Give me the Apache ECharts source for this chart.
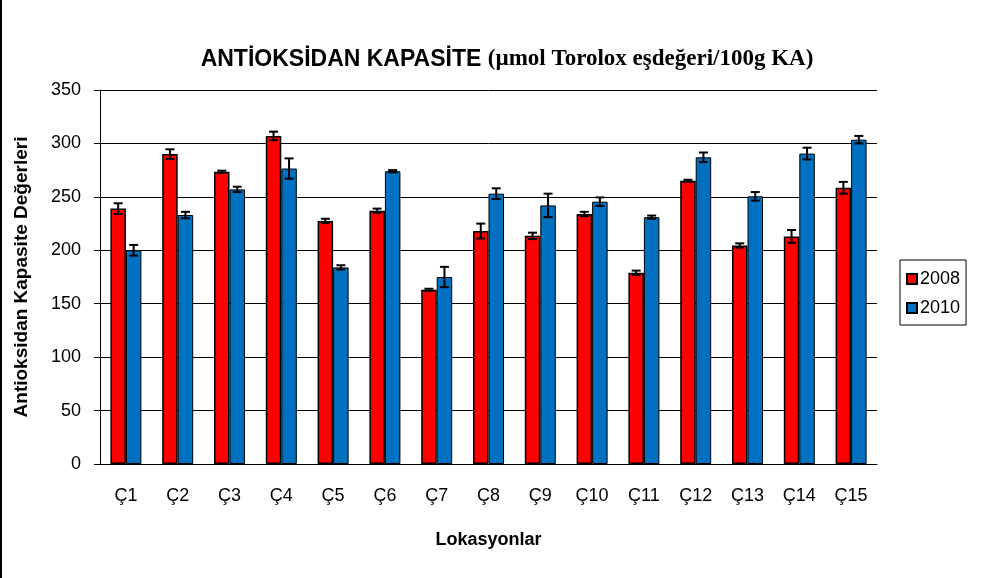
<!DOCTYPE html>
<html>
<head>
<meta charset="utf-8">
<script src="https://cdn.jsdelivr.net/npm/echarts@6/dist/echarts.min.js"></script>
<style>
  html, body { margin: 0; padding: 0; background: #fff; }
  #chart { width: 983px; height: 578px; }
</style>
</head>
<body>
<div id="chart"></div>
<script>
// data
const locations = ['Ç1', 'Ç2', 'Ç3', 'Ç4', 'Ç5', 'Ç6', 'Ç7', 'Ç8', 'Ç9', 'Ç10', 'Ç11', 'Ç12', 'Ç13', 'Ç14', 'Ç15']
const values2008 = [239, 290, 273.5, 307, 227.5, 237, 163, 218, 213.5, 234, 179, 265, 204.5, 213, 258.5]
const errors2008 = [5, 4.5, 1, 4, 2, 2, 1, 7, 3, 2, 2, 1, 2, 6, 5.5]
const values2010 = [200, 233, 257, 276.5, 184, 274, 175, 253, 242, 245.5, 231, 287, 250.5, 290.5, 303.5]
const errors2010 = [5, 3, 2.5, 9.5, 2, 1, 9.5, 5, 11, 4, 1.5, 4.5, 4, 5.5, 3.5]
const yTicks = { min: 0, max: 350, interval: 50 }

const barW = 15.5
const font = 'Arial, "Liberation Sans", sans-serif'
const $ = s => document.querySelector(s)

const errorSeries = (vals, errs, side) => ({
  type: 'custom',
  z: 10,
  silent: true,
  data: vals.map((v, i) => [i, v, errs[i]]),
  renderItem: (params, api) => {
    const i = api.value(0)
    const v = api.value(1)
    const e = api.value(2)
    const hi = api.coord([i, v + e])
    const lo = api.coord([i, v - e])
    const x = hi[0] + side * barW / 2
    const cap = 4.5
    const style = { stroke: '#000', lineWidth: 2 }
    return {
      type: 'group',
      children: [
        { type: 'line', shape: { x1: x, y1: hi[1], x2: x, y2: lo[1] }, style },
        { type: 'line', shape: { x1: x - cap, y1: hi[1], x2: x + cap, y2: hi[1] }, style },
        { type: 'line', shape: { x1: x - cap, y1: lo[1], x2: x + cap, y2: lo[1] }, style }
      ]
    }
  }
})

const chart = echarts.init($('#chart'), null, { renderer: 'canvas' })

const option = {
  backgroundColor: '#fff',
  animation: false,
  title: {
    text: '{a|ANTİOKSİDAN KAPASİTE }{b|(µmol Torolox eşdeğeri/100g KA)}',
    left: 502,
    textAlign: 'center',
    top: 43,
    textStyle: {
      rich: {
        a: { fontFamily: font, fontSize: 23, fontWeight: 'bold', color: '#000' },
        b: { fontFamily: '"Times New Roman", "Liberation Serif", serif', fontSize: 23, fontWeight: 'bold', color: '#000' }
      }
    }
  },
  legend: {
    left: 900,
    top: 260,
    orient: 'vertical',
    itemWidth: 10,
    itemHeight: 10,
    itemGap: 11,
    padding: [10, 6, 8, 6],
    backgroundColor: '#fff',
    borderColor: '#000',
    borderWidth: 1,
    borderRadius: 0,
    icon: 'rect',
    textStyle: { fontFamily: font, fontSize: 18, color: '#000', padding: [0, 0, 0, -2] },
    data: ['2008', '2010']
  },
  grid: { left: 100, right: 106, top: 90, bottom: 114 },
  xAxis: {
    type: 'category',
    data: locations,
    name: 'Lokasyonlar',
    nameLocation: 'middle',
    nameGap: 67,
    nameTextStyle: { fontFamily: font, fontSize: 18, fontWeight: 'bold', color: '#000' },
    axisLine: { lineStyle: { color: '#000', width: 1 } },
    axisTick: { length: 6, interval: 0, lineStyle: { color: '#000' } },
    axisLabel: { interval: 0, margin: 23, fontFamily: font, fontSize: 18, color: '#000' }
  },
  yAxis: {
    type: 'value',
    min: yTicks.min,
    max: yTicks.max,
    interval: yTicks.interval,
    name: 'Antioksidan Kapasite Değerleri',
    nameLocation: 'middle',
    nameGap: 69,
    nameTextStyle: { fontFamily: font, fontSize: 19, fontWeight: 'bold', color: '#000' },
    axisLine: { show: true, lineStyle: { color: '#000', width: 1 } },
    axisTick: { show: true, length: 6, lineStyle: { color: '#000' } },
    axisLabel: { margin: 19, fontFamily: font, fontSize: 18, color: '#000' },
    splitLine: { lineStyle: { color: '#000', width: 1 } }
  },
  series: [
    {
      name: '2008',
      type: 'bar',
      data: values2008,
      barWidth: barW,
      barGap: '0%',
      itemStyle: { color: '#ff0000', borderColor: '#000', borderWidth: 1.5 }
    },
    {
      name: '2010',
      type: 'bar',
      data: values2010,
      barWidth: barW,
      barGap: '0%',
      itemStyle: { color: '#0070c0', borderColor: '#000', borderWidth: 1 }
    },
    errorSeries(values2008, errors2008, -1),
    errorSeries(values2010, errors2010, 1)
  ],
  graphic: [
    { type: 'line', shape: { x1: 1, y1: 0, x2: 1, y2: 578 }, style: { stroke: '#000', lineWidth: 2 } }
  ]
}

chart.setOption(option)
</script>
</body>
</html>
